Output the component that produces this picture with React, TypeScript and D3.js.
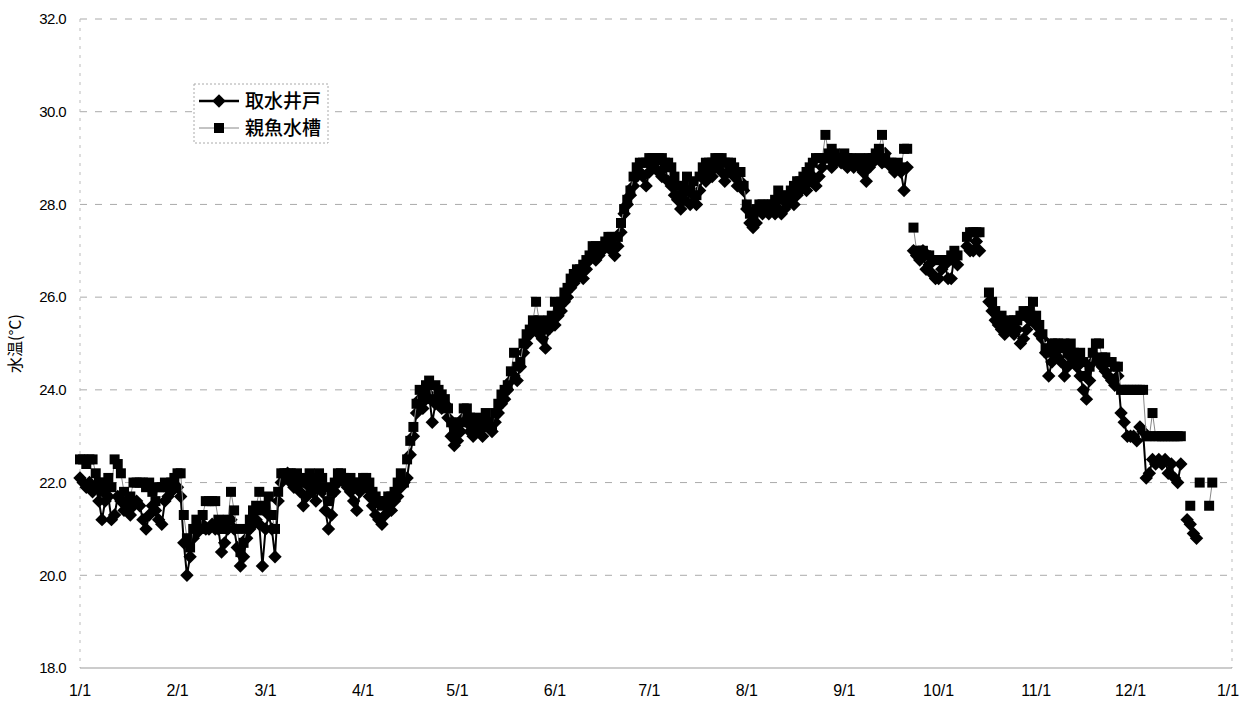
import React, { useEffect, useRef } from 'react';
import * as d3 from 'd3';

const YEAR = 2007;

// 取水井戸 : one row per month, one value per day (null = no record)
const wellTemp: (number | null)[][] = [
    [22.1, 22.0, 21.9, 22.0, 21.8, 21.9, 21.6, 21.2, 21.6, 21.7, 21.2, 21.3, 21.7, 21.6, 21.4, 21.5, 21.3, 21.5, 21.6, 21.5, 21.2, 21.0, 21.3, 21.5, 21.4, 21.2, 21.1, 21.6, 21.7, 21.8, 21.9],
    [21.9, 21.7, 20.7, 20.0, 20.4, 20.8, 20.9, 21.0, 21.1, 21.0, 21.0, 21.1, 21.0, 21.0, 20.5, 20.7, 21.0, 21.2, 21.0, 20.6, 20.2, 20.4, 20.8, 21.0, 21.1, 21.2, 21.1, 20.2],
    [21.0, 21.3, 21.0, 20.4, 21.6, 22.0, 22.1, 22.2, 22.0, 21.9, 22.0, 21.8, 21.5, 21.7, 21.9, 21.8, 21.6, 21.9, 21.8, 21.4, 21.0, 21.3, 21.8, 22.0, 22.1, 22.0, 21.9, 21.8, 21.6, 21.4, 21.8],
    [22.0, 21.9, 21.7, 21.5, 21.3, 21.2, 21.1, 21.3, 21.5, 21.4, 21.6, 21.7, 21.9, 22.0, 22.1, 22.6, 23.0, 23.5, 23.8, 23.6, 23.8, 23.9, 23.3, 23.7, 23.8, 23.6, 23.7, 23.4, 23.0, 22.8],
    [22.9, 23.1, 23.4, 23.3, 23.1, 23.0, 23.2, 23.1, 23.0, 23.3, 23.2, 23.1, 23.3, 23.5, 23.7, 23.8, 24.0, 24.2, 24.3, 24.2, 24.5, 24.8, 25.0, 25.2, 25.3, 25.4, 25.2, 25.1, 24.9, 25.3, 25.5],
    [25.4, 25.6, 25.7, 25.9, 26.0, 26.2, 26.3, 26.4, 26.5, 26.4, 26.6, 26.8, 26.9, 26.8, 26.9, 27.0, 27.1, 27.2, 27.0, 26.9, 27.1, 27.4, 27.8, 28.0, 28.2, 28.4, 28.6, 28.7, 28.6, 28.4],
    [28.7, 28.8, 28.9, 28.7, 28.6, 28.8, 28.5, 28.4, 28.2, 28.1, 27.9, 28.1, 28.3, 28.0, 28.2, 28.0, 28.3, 28.6, 28.5, 28.7, 28.6, 28.8, 28.9, 28.7, 28.5, 28.7, 28.8, 28.6, 28.4, 28.5, 28.3],
    [27.9, 27.6, 27.5, 27.6, 27.9, 27.8, 27.9, 27.8, 27.9, 27.8, 27.9, 27.8, 27.9, 28.0, 28.1, 28.0, 28.2, 28.3, 28.4, 28.3, 28.5, 28.6, 28.4, 28.6, 28.8, 29.0, 29.0, 28.8, 28.9, 29.0, 28.9],
    [28.9, 28.8, 28.9, 28.8, 28.9, 28.8, 28.7, 28.5, 28.8, 28.9, 29.0, 29.0, 28.9, 29.1, 28.9, 28.8, 28.7, 28.8, 28.7, 28.3, 28.8, null, 27.0, 26.9, 26.8, 27.0, 26.6, 26.7, 26.5, 26.4],
    [26.4, 26.6, 26.7, 26.4, 26.4, 26.9, 26.7, null, null, 27.1, 27.0, 27.0, 27.2, 27.0, null, null, 25.9, 25.7, 25.5, 25.4, 25.3, 25.2, 25.4, 25.3, 25.2, 25.3, 25.0, 25.1, 25.3, 25.5, 25.6],
    [25.4, 25.2, 25.1, 24.8, 24.3, 24.6, 24.8, 24.7, 24.6, 24.3, 24.5, 24.7, 24.6, 24.5, 24.3, 24.0, 23.8, 24.2, 24.6, 24.7, 24.6, 24.5, 24.4, 24.3, 24.2, 24.1, 24.3, 23.5, 23.3, 23.0],
    [23.0, 23.0, 22.9, 23.2, 23.1, 22.1, 22.2, 22.5, 22.4, 22.5, 22.4, 22.5, 22.2, 22.4, 22.1, 22.0, 22.4, null, 21.2, 21.1, 20.9, 20.8],
];

// 親魚水槽
const tankTemp: (number | null)[][] = [
    [22.5, 22.5, 22.4, 22.5, 22.5, 22.2, 22.0, 21.8, 22.0, 22.1, 21.9, 22.5, 22.4, 22.2, 21.8, 21.6, 21.7, 22.0, 22.0, 22.0, 22.0, 21.9, 22.0, 21.8, 21.6, 21.9, 21.9, 22.0, 21.9, 22.0, 22.1],
    [22.2, 22.2, 21.3, 20.8, 20.6, 21.0, 21.2, 21.0, 21.3, 21.6, 21.6, 21.6, 21.6, 21.2, 21.0, 21.0, 21.2, 21.8, 21.4, 21.0, 20.5, 20.7, 21.0, 21.2, 21.4, 21.5, 21.8, 21.4],
    [21.5, 21.7, 21.3, 21.0, 21.8, 22.2, 22.2, 22.2, 22.2, 22.1, 22.2, 22.0, 22.0, 22.1, 22.2, 22.0, 22.1, 22.2, 22.1, 21.9, 21.6, 21.8, 22.0, 22.2, 22.2, 22.1, 22.0, 22.1, 22.0, 21.9, 22.0],
    [22.1, 22.1, 22.0, 21.8, 21.7, 21.6, 21.5, 21.6, 21.7, 21.7, 21.8, 22.0, 22.2, 22.0, 22.5, 22.9, 23.2, 23.7, 24.0, 23.9, 24.1, 24.2, 23.8, 24.1, 24.0, 23.9, 23.8, 23.6, 23.3, 23.1],
    [23.2, 23.3, 23.6, 23.6, 23.4, 23.2, 23.4, 23.3, 23.2, 23.5, 23.3, 23.2, 23.5, 23.7, 23.9, 24.0, 24.1, 24.4, 24.8, 24.5, 24.6, 25.0, 25.2, 25.3, 25.5, 25.9, 25.5, 25.4, 25.3, 25.5, 25.6],
    [25.9, 25.8, 25.9, 26.1, 26.2, 26.4, 26.5, 26.6, 26.6, 26.7, 26.8, 26.9, 27.1, 27.1, 27.0, 27.1, 27.2, 27.3, 27.3, 27.1, 27.3, 27.6, 27.9, 28.1, 28.3, 28.6, 28.8, 28.9, 28.9, 28.9],
    [29.0, 29.0, 29.0, 29.0, 29.0, 28.9, 28.9, 28.8, 28.6, 28.4, 28.2, 28.4, 28.6, 28.3, 28.5, 28.2, 28.6, 28.8, 28.9, 28.9, 28.9, 29.0, 29.0, 29.0, 28.9, 28.9, 28.9, 28.8, 28.7, 28.7, 28.4],
    [28.0, 27.8, 27.7, 27.9, 28.0, 28.0, 27.9, 28.0, 28.0, 28.1, 28.3, 28.1, 28.2, 28.1, 28.3, 28.4, 28.5, 28.5, 28.6, 28.7, 28.8, 28.9, 29.0, 29.0, 29.0, 29.5, 29.1, 29.2, 29.1, 29.0, 29.0],
    [29.1, 29.0, 29.0, 28.9, 28.9, 29.0, 28.9, 28.8, 29.0, 29.0, 29.1, 29.2, 29.5, 29.0, 28.9, 28.9, 28.8, 28.9, 28.8, 29.2, 29.2, null, 27.5, 27.0, 27.0, 27.0, 26.9, 26.9, 26.8, 26.8],
    [26.8, 26.8, 26.8, 26.8, 26.9, 27.0, 26.9, null, null, 27.3, 27.4, 27.4, 27.4, 27.4, null, null, 26.1, 25.9, 25.7, 25.5, 25.6, 25.4, 25.5, 25.4, 25.5, 25.5, 25.6, 25.7, 25.6, 25.7, 25.9],
    [25.6, 25.4, 25.2, 24.9, 24.8, 25.0, 25.0, 25.0, 24.9, 25.0, 24.8, 25.0, 24.8, 24.7, 24.8, 24.6, 24.3, 24.5, 24.8, 25.0, 25.0, 24.7, 24.7, 24.6, 24.6, 24.5, 24.5, 24.0, 24.0, 24.0],
    [24.0, 24.0, 24.0, 24.0, 24.0, 23.0, 23.0, 23.5, 23.0, 23.0, 23.0, 23.0, 23.0, 23.0, 23.0, 23.0, 23.0, null, null, 21.5, null, null, 22.0, null, null, 21.5, 22.0],
];

const seriesNames = ['取水井戸', '親魚水槽'];
const yTicks = [18, 20, 22, 24, 26, 28, 30, 32];
const xTickLabels = ['1/1', '2/1', '3/1', '4/1', '5/1', '6/1', '7/1', '8/1', '9/1', '10/1', '11/1', '12/1', '1/1'];
const yTitle = '水温(°C)';

interface Point {
    date: Date;
    value: number | null;
}

const toPoints = (rows: (number | null)[][]): Point[] =>
    rows.flatMap((row, m) => row.map((v, i) => ({ date: new Date(YEAR, m, i + 1), value: v })));

const App: React.FC = () => {
    const svgRef = useRef<SVGSVGElement | null>(null);

    useEffect(() => {
        if (!svgRef.current) return;
        const width = 1253;
        const height = 709;
        const svg = d3.select(svgRef.current);
        svg.selectAll('*').remove();

        const left = 80;
        const right = 1232;
        const top = 19;
        const bottom = 668;

        const x = d3.scaleTime()
            .domain([new Date(YEAR, 0, 1), new Date(YEAR + 1, 0, 1)])
            .range([left, 1228]);
        const y = d3.scaleLinear().domain([18, 32]).range([bottom, top]);

        svg.append('rect').attr('width', width).attr('height', height).attr('fill', '#fff');

        // grid lines
        svg.append('g')
            .selectAll('line')
            .data(yTicks.filter(t => t > 18))
            .join('line')
            .attr('x1', left).attr('x2', right)
            .attr('y1', d => y(d)).attr('y2', d => y(d))
            .attr('stroke', '#aaa')
            .attr('stroke-width', 1)
            .attr('stroke-dasharray', '7,8');

        // plot area sides
        [left, right].forEach(px => {
            svg.append('line')
                .attr('x1', px).attr('x2', px)
                .attr('y1', top).attr('y2', bottom)
                .attr('stroke', '#bbb')
                .attr('stroke-dasharray', '3,6');
        });
        svg.append('line')
            .attr('x1', left).attr('x2', right)
            .attr('y1', bottom).attr('y2', bottom)
            .attr('stroke', '#999');

        // y tick labels
        svg.append('g')
            .selectAll('text')
            .data(yTicks)
            .join('text')
            .attr('x', 66)
            .attr('y', d => y(d))
            .attr('dy', '0.35em')
            .attr('text-anchor', 'end')
            .style('font-family', 'Liberation Sans, Arial, sans-serif')
            .style('font-size', '15px')
            .style('letter-spacing', '-0.6px')
            .text(d => d.toFixed(1));

        // x tick labels
        svg.append('g')
            .selectAll('text')
            .data(xTickLabels)
            .join('text')
            .attr('x', (_, i) => x(new Date(YEAR, i, 1)))
            .attr('y', 696)
            .attr('text-anchor', 'middle')
            .style('font-family', 'Liberation Sans, Arial, sans-serif')
            .style('font-size', '16px')
            .text(d => d);

        svg.append('text')
            .attr('transform', `translate(21,${(top + bottom) / 2}) rotate(-90)`)
            .attr('text-anchor', 'middle')
            .style('font-family', 'Noto Sans CJK JP, sans-serif')
            .style('font-size', '16px')
            .text(yTitle);

        const well = toPoints(wellTemp);
        const tank = toPoints(tankTemp);

        const line = d3.line<Point>()
            .defined(d => d.value != null)
            .x(d => x(d.date))
            .y(d => y(d.value as number));

        const diamond = d3.symbol().type(d3.symbolSquare).size(90)();
        const square = d3.symbol().type(d3.symbolSquare).size(100)();

        // 取水井戸
        svg.append('path')
            .datum(well)
            .attr('fill', 'none')
            .attr('stroke', '#000')
            .attr('stroke-width', 2)
            .attr('d', line);
        svg.append('g')
            .selectAll('path')
            .data(well.filter(d => d.value != null))
            .join('path')
            .attr('d', diamond)
            .attr('transform', d => `translate(${x(d.date)},${y(d.value as number)}) rotate(45)`)
            .attr('fill', '#000');

        // 親魚水槽
        svg.append('path')
            .datum(tank)
            .attr('fill', 'none')
            .attr('stroke', '#888')
            .attr('stroke-width', 1)
            .attr('d', line);
        svg.append('g')
            .selectAll('path')
            .data(tank.filter(d => d.value != null))
            .join('path')
            .attr('d', square)
            .attr('transform', d => `translate(${x(d.date)},${y(d.value as number)})`)
            .attr('fill', '#000');

        // legend
        const legend = svg.append('g').attr('transform', 'translate(194,84)');
        legend.append('rect')
            .attr('width', 134).attr('height', 59)
            .attr('fill', '#fff')
            .attr('stroke', '#aaa')
            .attr('stroke-dasharray', '2,2');
        seriesNames.forEach((name, i) => {
            const ly = 17 + i * 27;
            legend.append('line')
                .attr('x1', 5).attr('x2', 45)
                .attr('y1', ly).attr('y2', ly)
                .attr('stroke', i === 0 ? '#000' : '#888')
                .attr('stroke-width', i === 0 ? 2.5 : 1);
            legend.append('path')
                .attr('d', i === 0 ? diamond : square)
                .attr('transform', `translate(25,${ly})${i === 0 ? ' rotate(45)' : ''}`)
                .attr('fill', '#000');
            legend.append('text')
                .attr('x', 51).attr('y', ly)
                .attr('dy', '0.36em')
                .style('font-family', 'Noto Sans CJK JP, sans-serif')
                .style('font-size', '19px')
                .style('font-weight', 500)
                .text(name);
        });
    }, []);

    return (
        <svg
            ref={svgRef}
            width={1253}
            height={709}
            style={{ position: 'absolute', left: 0, top: 0 }}
        />
    );
};

export default App;
